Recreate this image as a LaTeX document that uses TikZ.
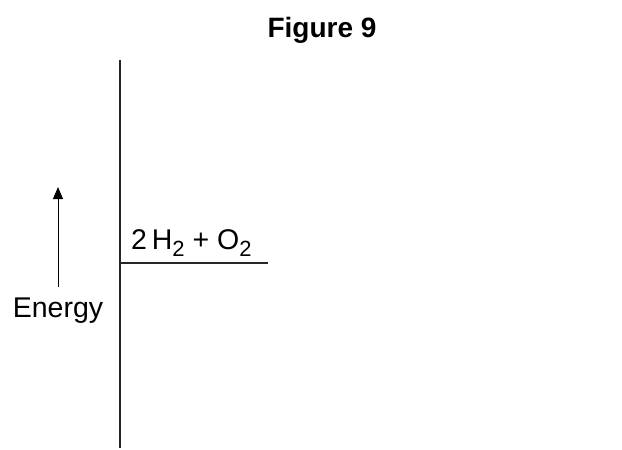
\documentclass[tikz,border=0pt]{standalone}
\usepackage{fontspec}
\setmainfont{Liberation Sans}
\usetikzlibrary{arrows.meta}
\begin{document}
\begin{tikzpicture}[x=1pt,y=-1pt,
  lbl/.style={inner sep=0pt,font=\fontsize{28.5}{32}\selectfont},
  axis/.style={line width=1.6pt,draw=black!85},
  level/.style={line width=2.4pt,draw=black!85}]
\useasboundingbox (0,0) rectangle (622,450);
\node[lbl,font=\fontsize{28}{32}\selectfont\bfseries,anchor=base] (title) at (322,37) {Figure 9};
\coordinate (atop) at (120,60);
\coordinate (abot) at (120,448);
\draw[axis] (atop) -- (abot);
\coordinate (lstart) at (120,263);
\coordinate (lend) at (268,263);
\draw[level] (lstart) -- (lend);
\node[lbl,anchor=base west] (react) at (131,249) {2\,H\raisebox{-0.5ex}{\fontsize{22}{24}\selectfont 2} + O\raisebox{-0.5ex}{\fontsize{22}{24}\selectfont 2}};
\coordinate (ebot) at (58,287);
\coordinate (etop) at (58,187);
\draw[line width=1pt,-{Triangle[length=12pt,width=10pt]}] (ebot) -- (etop);
\node[lbl,anchor=base] (energy) at (58,317) {Energy};
\end{tikzpicture}
\end{document}
